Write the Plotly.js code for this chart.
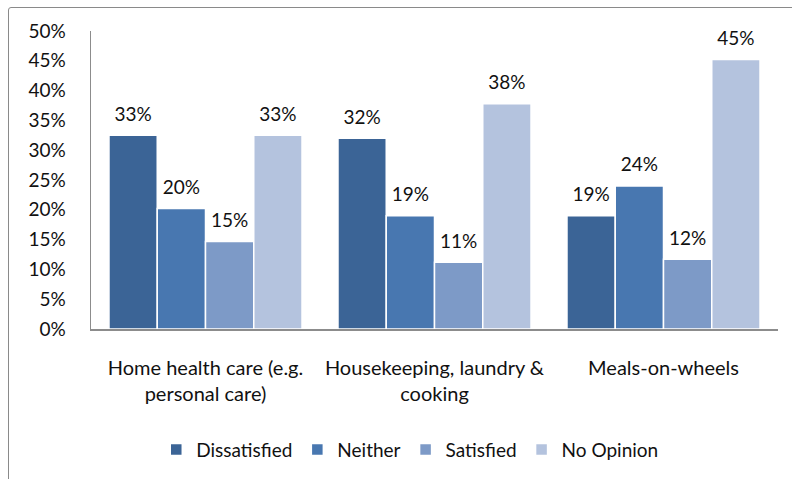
<!DOCTYPE html>
<html>
<head>
<meta charset="utf-8">
<script src="https://cdn.plot.ly/plotly-3.0.1.min.js"></script>
<style>
html,body{margin:0;padding:0;background:#fff;}
#chart{position:absolute;left:0;top:0;width:792px;height:479px;}
#frame{position:absolute;left:8px;top:7px;width:820px;height:520px;border:1px solid #8a8a8a;border-radius:3px;pointer-events:none;}
</style>
</head>
<body>
<div id="chart"></div>
<div id="frame"></div>
<script>
const categories = ["Home health care (e.g.<br>personal care)", "Housekeeping, laundry &<br>cooking", "Meals-on-wheels"];
const seriesNames = ["Dissatisfied", "Neither", "Satisfied", "No Opinion"];
const dissatisfied = [0.325, 0.32, 0.19];
const neither = [0.202, 0.19, 0.24];
const satisfied = [0.147, 0.112, 0.117];
const noOpinion = [0.325, 0.378, 0.452];
const yTickVals = [0, 0.05, 0.10, 0.15, 0.20, 0.25, 0.30, 0.35, 0.40, 0.45, 0.50];

const colors = ["#3b6496", "#4877b0", "#7d9ac7", "#b4c3de"];
const seriesValues = [dissatisfied, neither, satisfied, noOpinion];
const fontFam = "Lato, 'Open Sans', sans-serif";
const fs = 19;
const gap = 0.157;

const traces = [];
seriesValues.forEach((vals, i) => {
  traces.push({
    type: "bar", name: seriesNames[i], x: categories, y: vals,
    marker: {color: colors[i], line: {color: "#ffffff", width: 1.5}},
    hoverinfo: "skip"
  });
});
seriesValues.forEach((vals, i) => {
  traces.push({
    type: "scatter", mode: "markers+text", x: categories, y: vals,
    text: vals.map(v => Math.round(v * 100) + "%"),
    textposition: "top center",
    textfont: {family: fontFam, size: fs, color: "#111"},
    marker: {size: 14, opacity: 0},
    showlegend: false, hoverinfo: "skip", cliponaxis: false
  });
});

const layout = {
  width: 792, height: 479,
  margin: {l: 91, r: 14, t: 31, b: 149},
  paper_bgcolor: "#fff", plot_bgcolor: "#fff",
  barmode: "group", bargap: gap, bargroupgap: 0,
  scattermode: "group", scattergap: gap,
  font: {family: fontFam, size: fs, color: "#111"},
  xaxis: {
    type: "category", showgrid: false, zeroline: false,
    showline: true, linecolor: "#8c8c8c", linewidth: 1.5,
    ticks: "outside", ticklen: 20, tickcolor: "rgba(0,0,0,0)",
    tickfont: {family: fontFam, size: 20, color: "#111"}
  },
  yaxis: {
    range: [0, 0.5], tickvals: yTickVals, tickformat: ".0%",
    showgrid: false, zeroline: false,
    showline: true, linecolor: "#8c8c8c", linewidth: 1.5,
    ticks: "outside", ticklen: 20, tickcolor: "rgba(0,0,0,0)",
    tickfont: {family: fontFam, size: fs, color: "#111"}
  },
  legend: {
    orientation: "h", x: 0.464, xanchor: "center", y: -0.40, yanchor: "middle",
    font: {family: fontFam, size: fs, color: "#111"}, itemwidth: 30
  },
  showlegend: true
};

Plotly.newPlot("chart", traces, layout, {staticPlot: true});
</script>
</body>
</html>
